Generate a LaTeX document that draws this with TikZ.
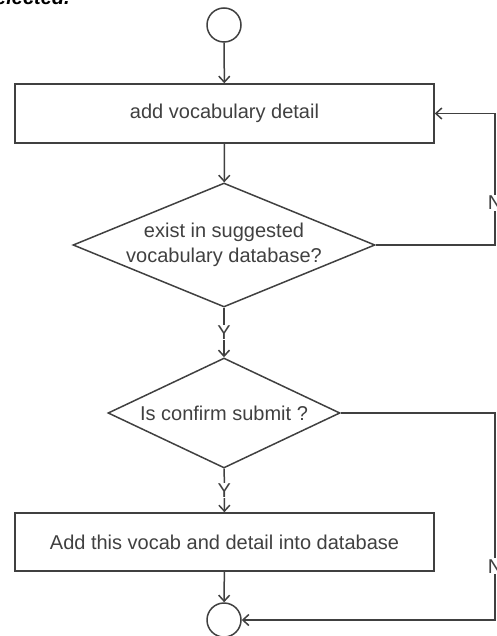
\documentclass[tikz,border=0pt]{standalone}
\usepackage{fontspec}
\setmainfont{Liberation Sans}
\usetikzlibrary{arrows.meta,shapes.geometric}
\definecolor{dgray}{rgb}{0.25,0.25,0.25}

\begin{document}
\begin{tikzpicture}[x=1pt,y=-1pt,line width=1.5pt,
  font=\fontsize{20}{25}\selectfont,text=dgray,
  flow/.style={draw=dgray,-{Straight Barb[length=6pt,width=11pt]}},
  stepbox/.style={draw=dgray,rectangle,minimum width=419pt,inner sep=0pt},
  test/.style={draw=dgray,diamond,inner sep=0pt},
  term/.style={draw=dgray,circle,minimum size=34pt,inner sep=0pt},
  lbl/.style={fill=white,inner sep=1pt}]
\useasboundingbox (0,0) rectangle (497,636);
\node[anchor=base west,font=\fontsize{20}{25}\selectfont\bfseries\itshape,text=black] (cut) at (-20,5) {selected.};
\node[term] (start) at (224,25) {};
\node[stepbox,minimum height=59pt] (box1) at (224.5,113.5) {add vocabulary detail};
\node[test,minimum width=302pt,minimum height=124pt,
  label={[align=center]center:exist in suggested\\vocabulary database?}] (dec1) at (224,245) {};
\node[test,minimum width=232pt,minimum height=110pt,
  label={center:Is confirm submit ?}] (dec2) at (224,413) {};
\node[stepbox,minimum height=58pt] (box2) at (224.5,542) {Add this vocab and detail into database};
\node[term] (stop) at (224,620) {};
\coordinate (r1) at (495,113.5);
\coordinate (r2) at (495,620);
\draw[flow] (start) -- (box1);
\draw[flow] (box1) -- (dec1);
\draw[flow] (dec1) -- node[lbl] {Y} (dec2);
\draw[flow] (dec2) -- node[lbl] {Y} (box2);
\draw[flow] (box2) -- (stop);
\draw[flow] (dec1.east) -| node[lbl,pos=0.66] {N} (r1) -- (box1.east);
\draw[flow] (dec2.east) -| node[lbl,pos=0.87] {N} (r2) -- (stop.east);
\end{tikzpicture}
\end{document}
